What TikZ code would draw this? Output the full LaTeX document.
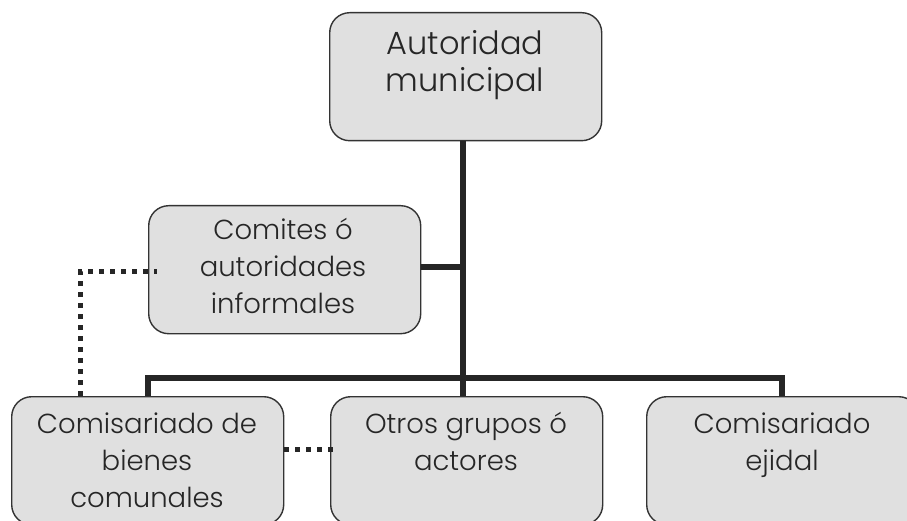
\documentclass[tikz,border=0pt]{standalone}
\usepackage{fontspec}
\setmainfont{Poppins Light}
\newcommand{\lines}[1]{\begin{tabular}[t]{@{}c@{}}#1\end{tabular}}
\begin{document}
\begin{tikzpicture}[x=1pt,y=-1pt,
  box/.style={draw=black!80, line width=1.4pt, fill=black!12, rounded corners=20pt,
    minimum width=272pt, minimum height=128pt, inner sep=0pt, anchor=north west},
  big/.style={font=\fontsize{32}{37}\selectfont, text=black!85, inner sep=0pt, anchor=base},
  txt/.style={font=\fontsize{27.5}{37}\selectfont, text=black!85, inner sep=0pt, anchor=base},
  link/.style={line width=5.6pt, black!85},
  dots/.style={line width=5pt, black!85, dash pattern=on 5pt off 6pt}
]
\useasboundingbox (0,0) rectangle (907,521);
\node[box] (top) at (329,12) {};
\node[box] (com) at (148,205) {};
\node[box] (bc) at (11,396) {};
\node[box] (og) at (330,396) {};
\node[box] (ej) at (646,396) {};

\node[big] (ttop) at (465,55) {\lines{Autoridad\\municipal}};
\node[txt] (tcom) at (283,240) {\lines{Comites ó\\autoridades\\informales}};
\node[txt] (tbc) at (147,433) {\lines{Comisariado de\\bienes\\comunales}};
\node[txt] (tog) at (466,433) {\lines{Otros grupos ó\\actores}};
\node[txt] (tej) at (782,433) {\lines{Comisariado\\ejidal}};

\coordinate (bus) at (463,378);
\draw[link] (top.south -| bus) -- (bus);
\draw[link] (com.east |- 0,267) -- (463,267);
\draw[link] (bc.north -| 148,0) -- (148,378) -- (782,378) -- (ej.north -| 782,0);
\draw[link] (bus) -- (og.north -| bus);
\draw[dots] (bc.north -| 80,0) -- (80,272) -- (157,272);
\draw[dots] (bc.east |- 0,449) -- (335,449);
\end{tikzpicture}
\end{document}
